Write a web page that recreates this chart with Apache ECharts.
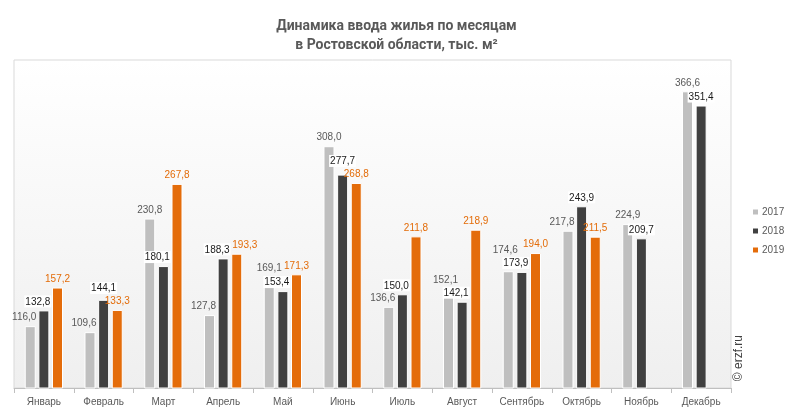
<!DOCTYPE html>
<html><head><meta charset="utf-8">
<script src="https://cdn.jsdelivr.net/npm/echarts@6/dist/echarts.min.js"></script>
<style>html,body{margin:0;padding:0;background:#fff}#c{width:793px;height:415px}</style>
</head><body><div id="c"></div>
<script>
const categories = ['Январь','Февраль','Март','Апрель','Май','Июнь','Июль','Август','Сентябрь','Октябрь','Ноябрь','Декабрь'];
const seriesNames = ['2017','2018','2019'];
const values2017 = [116.0,109.6,230.8,127.8,169.1,308.0,136.6,152.1,174.6,217.8,224.9,366.6];
const values2018 = [132.8,144.1,180.1,188.3,153.4,277.7,150.0,142.1,173.9,243.9,209.7,351.4];
const values2019 = [157.2,133.3,267.8,193.3,171.3,268.8,211.8,218.9,194.0,211.5,null,null];
const barColors = ['#bfbfbf','#404040','#e46c0a'];
const labelColors = ['#595959','#1a1a1a','#e36c09'];
const allValues = [values2017, values2018, values2019];
const FONT = '"Liberation Sans", Arial';
const LABEL_SIZE = 10;

const chart = echarts.init(document.getElementById('c'), null, {renderer:'canvas'});
const fmtv = v => v.toFixed(1).replace('.', ',');
const fmt = p => p.value == null ? '' : fmtv(p.value);

function buildSeries(offsets){
  return seriesNames.map((n,i)=>({
    name:n, type:'bar', barWidth:11, barGap:'24%',
    data: allValues[i].map((v,c)=> offsets ? {value:v, label:{offset:offsets[i][c]}} : v),
    itemStyle:{color:barColors[i], borderColor:'#ffffff', borderWidth:1},
    label:{show:true, position:'top', distance:3, formatter:fmt,
      fontFamily:FONT, fontSize:LABEL_SIZE, lineHeight:11, color:labelColors[i],
      backgroundColor: i===1 ? '#ffffff' : 'transparent', padding:[1,1,0,1]}
  }));
}

chart.setOption({
  animation:false,
  title:{
    text:'Динамика ввода жилья по месяцам\nв Ростовской области, тыс. м²',
    left:'center', top:12,
    textStyle:{fontFamily:'Roboto', fontSize:14, fontWeight:'bold', color:'#595959', lineHeight:19}
  },
  legend:{
    orient:'vertical', left:746, top:202, itemWidth:7, itemHeight:7, itemGap:9,
    icon:'rect',
    textStyle:{fontFamily:FONT, fontSize:10, color:'#595959', padding:[0,0,0,-2]},
    data:seriesNames
  },
  grid:{
    left:14, top:60, width:717, height:328, show:true,
    borderColor:'#d9d9d9', borderWidth:1,
    backgroundColor:{type:'linear',x:0,y:0,x2:0,y2:1,colorStops:[{offset:0,color:'#ffffff'},{offset:1,color:'#efefef'}]}
  },
  xAxis:{
    type:'category', data:categories,
    axisLine:{lineStyle:{color:'#bfbfbf'}},
    axisTick:{show:true, length:5, lineStyle:{color:'#bfbfbf'}},
    axisLabel:{interval:0, fontFamily:FONT, fontSize:10, color:'#595959', margin:9}
  },
  yAxis:{type:'value', min:50, max:400, show:false, splitLine:{show:false}},
  series: buildSeries(null),
  graphic:[{
    type:'text', left:733, top:335, rotation:Math.PI/2,
    style:{text:'© erzf.ru', font:'12px "Liberation Sans", Arial', fill:'#404040'}
  }]
});

// resolve label collisions using the bar layout computed by ECharts
function overlap(a,b){ return a.x1 < b.x2 && b.x1 < a.x2 && a.y1 < b.y2 && b.y1 < a.y2; }
function layoutLabels(){
  const ctx = document.createElement('canvas').getContext('2d');
  ctx.font = LABEL_SIZE + 'px "Liberation Sans"';
  const H = 12;
  const offsets = allValues.map(a => a.map(()=>[0,0]));
  const model = chart.getModel();
  for (let c=0;c<categories.length;c++){
    const items=[], bars=[];
    for (let s=0;s<allValues.length;s++){
      const v = allValues[s][c]; if (v==null) continue;
      const lay = model.getSeriesByIndex(s).getData().getItemLayout(c);
      const cx = lay.x + lay.width/2;
      const top = Math.min(lay.y, lay.y+lay.height);
      const bottom = Math.max(lay.y, lay.y+lay.height);
      bars.push({s, x1:lay.x, x2:lay.x+lay.width, y1:top, y2:bottom});
      const w = ctx.measureText(fmtv(v)).width + 2;
      items.push({s, cx, bottom: top - 3, w});
    }
    items.sort((a,b)=>b.bottom-a.bottom);
    const placed=[];
    for (const it of items){
      const obst = bars.filter(b=>b.s>it.s);
      const blocked = r => placed.some(p=>overlap(p,r)) || obst.some(b=>overlap(b,r));
      const dirs=[0];
      for (let k=1;k<=8;k++){
        if (it.s===0) dirs.push(-k);
        else if (it.s===2) dirs.push(k);
        else dirs.push(-k,k);
      }
      let ok=null;
      for (const dx of dirs){
        const r={x1:it.cx+dx-it.w/2,x2:it.cx+dx+it.w/2,y1:it.bottom-H,y2:it.bottom};
        if (!blocked(r)){ok={dx,r};break;}
      }
      if(!ok){
        const dx = it.s===0?-3:(it.s===2?3:0);
        let r={x1:it.cx+dx-it.w/2,x2:it.cx+dx+it.w/2,y1:it.bottom-H,y2:it.bottom};
        let guard=0;
        while(blocked(r) && guard++<20){
          const hits = placed.concat(obst).filter(q=>overlap(q,r));
          const p = hits.reduce((a,b)=>a.y1<b.y1?a:b);
          const shift = r.y2 - p.y1 + 1;
          r.y1-=shift; r.y2-=shift;
        }
        ok={dx,r};
      }
      placed.push(ok.r);
      offsets[it.s][c]=[ok.dx, ok.r.y2-it.bottom];
    }
  }
  return offsets;
}
chart.setOption({series: buildSeries(layoutLabels())});
</script></body></html>
